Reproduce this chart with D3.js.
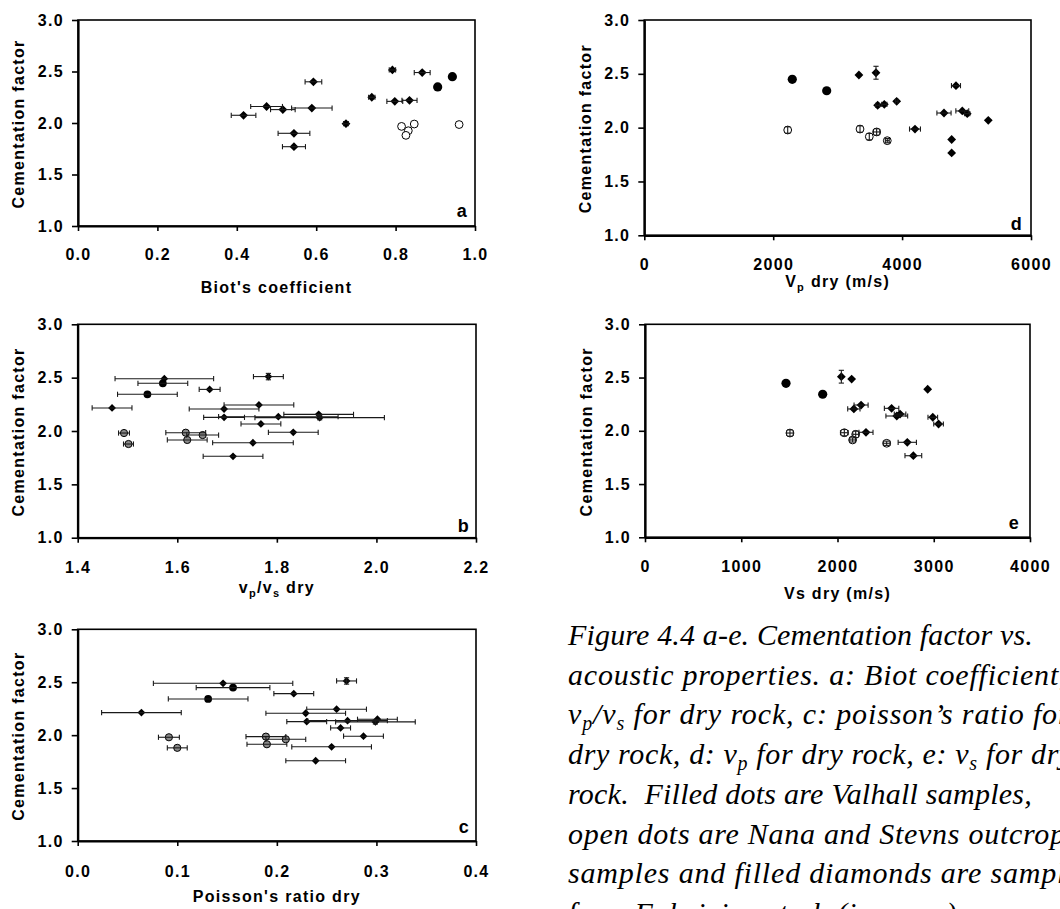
<!DOCTYPE html>
<html><head><meta charset="utf-8">
<script src="https://cdn.jsdelivr.net/npm/d3@7"></script>
<style>
html,body{margin:0;padding:0;background:#fff;overflow:hidden;}
svg{display:block;}
.tick text{font-family:"Liberation Sans",Arial,sans-serif;font-weight:bold;font-size:16px;letter-spacing:1.3px;fill:#000;}
.ttl{font-family:"Liberation Sans",Arial,sans-serif;font-weight:bold;font-size:16px;letter-spacing:1.3px;fill:#000;}
.cap{font-family:"Liberation Serif","Times New Roman",serif;font-style:italic;font-size:30px;fill:#000;white-space:pre;}
</style></head><body>
<svg id="fig" width="1060" height="909"></svg>
<script>
// ---------- tick values ----------
const yTicks = [1.0, 1.5, 2.0, 2.5, 3.0];
const biotTicks = [0, 0.2, 0.4, 0.6, 0.8, 1.0];
const vpvsTicks = [1.4, 1.6, 1.8, 2.0, 2.2];
const poissonTicks = [0, 0.1, 0.2, 0.3, 0.4];
const vpTicks = [0, 2000, 4000, 6000];
const vsTicks = [0, 1000, 2000, 3000, 4000];

// ---------- data: [x, cementation factor, xError, mError] ----------
// a: Biot's coefficient
const biotFabricius = [[0.792,2.515,0.008,0],[0.867,2.49,0.02,0],[0.593,2.40,0.021,0],[0.740,2.25,0.008,0],
  [0.798,2.21,0.02,0],[0.835,2.22,0.019,0],[0.475,2.16,0.04,0],[0.516,2.13,0.031,0],[0.589,2.145,0.051,0],
  [0.417,2.075,0.031,0],[0.675,1.993,0.006,0],[0.544,1.90,0.04,0],[0.544,1.77,0.029,0]];
const biotValhall = [[0.943,2.45,0,0],[0.906,2.35,0,0]];
const biotOutcrop = [[0.815,1.967,0,0],[0.847,1.99,0,0],[0.832,1.925,0,0],[0.826,1.88,0,0],[0.960,1.985,0,0]];
// b: vp/vs dry
const vpvsFabricius = [[1.574,2.49,0.099,0],[1.783,2.51,0.03,0.03],[1.665,2.39,0.021,0],[1.469,2.216,0.04,0],
  [1.764,2.244,0.07,0],[1.694,2.206,0.07,0],[1.884,2.156,0.07,0],[1.886,2.125,0.13,0.02],[1.694,2.128,0.041,0],
  [1.803,2.134,0.12,0],[1.768,2.066,0.04,0],[1.833,1.988,0.05,0],[1.752,1.89,0.081,0],[1.712,1.763,0.06,0]];
const vpvsValhall = [[1.571,2.447,0.05,0],[1.54,2.344,0.06,0]];
const vpvsOutcrop = [[1.493,1.981,0.011,0],[1.617,1.984,0.04,0],[1.651,1.962,0.032,0],[1.62,1.916,0.04,0],[1.502,1.878,0.01,0]];
// c: Poisson's ratio dry
const poissonFabricius = [[0.146,2.49,0.07,0],[0.27,2.512,0.01,0.03],[0.217,2.392,0.02,0],[0.064,2.213,0.04,0],
  [0.26,2.245,0.03,0],[0.229,2.207,0.04,0],[0.230,2.128,0.02,0],[0.271,2.137,0.04,0],[0.301,2.15,0.02,0],
  [0.299,2.125,0.04,0.02],[0.264,2.068,0.01,0],[0.287,1.99,0.02,0],[0.255,1.89,0.04,0],[0.239,1.758,0.03,0]];
const poissonValhall = [[0.156,2.449,0.037,0],[0.131,2.342,0.04,0]];
const poissonOutcrop = [[0.0916,1.98,0.0105,0],[0.189,1.986,0.02,0],[0.209,1.961,0.02,0],[0.19,1.914,0.02,0],[0.1,1.88,0.01,0]];
// d: Vp dry (m/s)
const vpFabricius = [[3330,2.489,0,0],[3595,2.51,0,0.06],[4836,2.39,70,0],[3621,2.208,30,0],[3724,2.217,40,0],
  [3916,2.245,20,0],[4650,2.136,110,0],[4934,2.155,100,0],[5011,2.13,40,0],[5337,2.068,0,0],
  [4200,1.987,85,0],[4769,1.89,0,0],[4769,1.765,0,0]];
const vpValhall = [[2296,2.449,0,0],[2830,2.343,0,0]];
const vpOutcrop = [[2225,1.978,0,0.03],[3347,1.987,0,0.03],[3491,1.916,0,0.03],[3605,1.96,50,0.03],[3770,1.879,30,0.02]];
// e: Vs dry (m/s)
const vsFabricius = [[2040,2.508,0,0.06],[2147,2.486,0,0],[2937,2.39,0,0],[2245,2.242,73,0],[2170,2.205,64,0],
  [2562,2.211,75,0],[2616,2.139,113,0],[2650,2.157,60,0],[2990,2.127,50,0],[3050,2.064,50,0],
  [2296,1.986,73,0],[2725,1.892,95,0],[2788,1.766,87,0]];
const vsValhall = [[1465,2.446,0,0],[1846,2.343,0,0]];
const vsOutcrop = [[1506,1.979,35,0.03],[2071,1.982,40,0.03],[2189,1.967,30,0.03],[2157,1.914,30,0.02],[2511,1.883,35,0.02]];

// ---------- caption (segments; second item flags a subscript) ----------
const captionLines = [
  [["Figure 4.4 a-e. Cementation factor vs."]],
  [["acoustic properties. a: Biot coefficient, b:"]],
  [["v"],["p",1],["/v"],["s",1],[" for dry rock, c: poisson\u2019s ratio for"]],
  [["dry rock, d: v"],["p",1],[" for dry rock, e: v"],["s",1],[" for dry"]],
  [["rock.  Filled dots are Valhall samples,"]],
  [["open dots are Nana and Stevns outcrop"]],
  [["samples and filled diamonds are samples"]],
  [["from Fabricius et al. (in press)."]]
];
// leading characters of each line and where they end in the source
const captionFit = [
  ["Figure 4.4 a-e. Cementation factor vs.", 1033],
  ["acoustic properties. a: Biot coefficient", 1059],
  ["vp/vs for dry rock, c: poisson\u2019s ratio fo", 1058],
  ["dry rock, d: vp for dry rock, e: vs for dr", 1059],
  ["rock.  Filled dots are Valhall samples,", 1032],
  ["open dots are Nana and Stevns outcro", 1050],
  ["samples and filled diamonds are samp", 1057],
  ["from Fabricius et al. (in press)", 957]
];

const svg = d3.select("#fig");

const panels = [
  {x0:78, x1:475, y0:20, y1:226, dom:[0,1], ticks:biotTicks, fmt:d3.format(".1f"), pad:17.6,
   title:[["Biot's coefficient"]], titleY:293, ytx:18, letter:"a", ldx:-7, ldy:-9, big:true,
   sets:[biotFabricius, biotValhall, biotOutcrop]},
  {x0:77.7, x1:476, y0:324.3, y1:537.7, dom:[1.4,2.2], ticks:vpvsTicks, fmt:d3.format(".1f"), pad:18.6,
   title:[["v"],["p",1],["/v"],["s",1],[" dry"]], titleY:593, ytx:18, letter:"b", ldx:-6, ldy:-6, big:false,
   sets:[vpvsFabricius, vpvsValhall, vpvsOutcrop]},
  {x0:77.7, x1:476, y0:629.3, y1:841, dom:[0,0.4], ticks:poissonTicks, fmt:d3.format(".1f"), pad:19.3,
   title:[["Poisson's ratio dry"]], titleY:901.5, ytx:18, letter:"c", ldx:-6, ldy:-8, big:false,
   sets:[poissonFabricius, poissonValhall, poissonOutcrop]},
  {x0:644.3, x1:1031, y0:20, y1:235.3, dom:[0,6000], ticks:vpTicks, fmt:d3.format("d"), pad:18.8,
   title:[["V"],["p",1],[" dry (m/s)"]], titleY:287, ytx:585.5, letter:"d", ldx:-8, ldy:-5, big:true,
   sets:[vpFabricius, vpValhall, vpOutcrop]},
  {x0:645, x1:1030, y0:324.3, y1:537.3, dom:[0,4000], ticks:vsTicks, fmt:d3.format("d"), pad:18,
   title:[["Vs dry (m/s)"]], titleY:599, ytx:586.5, letter:"e", ldx:-10, ldy:-8, big:true,
   sets:[vsFabricius, vsValhall, vsOutcrop]}
];

function addSegments(textSel, segs, subSize, shift){
  let prevSub = false;
  segs.forEach(s => {
    const t = textSel.append("tspan").text(s[0]);
    const isSub = !!s[1];
    if (isSub) t.attr("font-size", subSize).attr("dy", shift);
    else if (prevSub) t.attr("dy", -shift);
    prevSub = isSub;
  });
}

panels.forEach(p => {
  const x = d3.scaleLinear().domain(p.dom).range([p.x0, p.x1]);
  const y = d3.scaleLinear().domain([1,3]).range([p.y1, p.y0]);
  const g = svg.append("g");

  // plot box
  g.append("rect").attr("x", p.x0).attr("y", p.y0).attr("width", p.x1-p.x0).attr("height", p.y1-p.y0)
    .attr("fill","none").attr("stroke","#000").attr("stroke-width",1.6);

  // axes
  const ya = g.append("g").attr("transform",`translate(${p.x0},0)`)
    .call(d3.axisLeft(y).tickValues(yTicks).tickFormat(d3.format(".1f")).tickSize(6).tickSizeOuter(0).tickPadding(8));
  const xa = g.append("g").attr("transform",`translate(0,${p.y1})`)
    .call(d3.axisBottom(x).tickValues(p.ticks).tickFormat(p.fmt).tickSize(5).tickSizeOuter(0).tickPadding(p.pad));
  [ya, xa].forEach(a => {
    a.select(".domain").attr("stroke","#000").attr("stroke-width",2.2);
    a.selectAll(".tick line").attr("stroke","#000").attr("stroke-width",1.6);
  });

  // y title
  svg.append("text").attr("class","ttl")
    .attr("transform",`translate(${p.ytx},${(p.y0+p.y1)/2 + 1}) rotate(-90)`)
    .attr("text-anchor","middle").attr("dy","0.35em").text("Cementation factor");

  // x title
  const xt = svg.append("text").attr("class","ttl").attr("x",(p.x0+p.x1)/2).attr("y",p.titleY)
    .attr("text-anchor","middle");
  addSegments(xt, p.title, "11px", 4);

  // panel letter
  svg.append("text").attr("class","ttl").style("font-size","18px")
    .attr("x", p.x1 + p.ldx).attr("y", p.y1 + p.ldy).attr("text-anchor","end").text(p.letter);

  const mk = g.append("g");
  const eb = g.append("g").attr("stroke","#1a1a1a").attr("stroke-width",1.1).attr("fill","none");
  const rd = p.big ? 4.4 : 3.9;
  const rc = p.big ? 4.6 : 3.9;
  const ro = p.big ? 3.9 : 3.6;

  // Fabricius et al.: filled diamonds
  mk.selectAll("path.dia").data(p.sets[0]).join("path").attr("class","dia")
    .attr("d", d => `M${x(d[0])},${y(d[1])-rd}L${x(d[0])+rd},${y(d[1])}L${x(d[0])},${y(d[1])+rd}L${x(d[0])-rd},${y(d[1])}Z`)
    .attr("fill","#000");
  // Valhall: filled circles
  mk.selectAll("circle.val").data(p.sets[1]).join("circle").attr("class","val")
    .attr("cx", d => x(d[0])).attr("cy", d => y(d[1])).attr("r", rc).attr("fill","#000");
  // Nana & Stevns outcrop: open circles
  mk.selectAll("circle.out").data(p.sets[2]).join("circle").attr("class","out")
    .attr("cx", d => x(d[0])).attr("cy", d => y(d[1])).attr("r", ro)
    .attr("fill", p.big ? "#fff" : "#8a8a8a").attr("stroke","#000").attr("stroke-width",1);

  // error bars
  const all = p.sets[0].concat(p.sets[1], p.sets[2]);
  const cap = 2.6;
  all.forEach(d => {
    const cx = x(d[0]), cy = y(d[1]);
    if (d[2] > 0) {
      const xl = x(d[0]-d[2]), xr = x(d[0]+d[2]);
      eb.append("line").attr("x1",xl).attr("x2",xr).attr("y1",cy).attr("y2",cy);
      eb.append("line").attr("x1",xl).attr("x2",xl).attr("y1",cy-cap).attr("y2",cy+cap);
      eb.append("line").attr("x1",xr).attr("x2",xr).attr("y1",cy-cap).attr("y2",cy+cap);
    }
    if (d[3] > 0) {
      const yt = y(d[1]+d[3]), yb = y(d[1]-d[3]);
      eb.append("line").attr("x1",cx).attr("x2",cx).attr("y1",yt).attr("y2",yb);
      eb.append("line").attr("x1",cx-cap).attr("x2",cx+cap).attr("y1",yt).attr("y2",yt);
      eb.append("line").attr("x1",cx-cap).attr("x2",cx+cap).attr("y1",yb).attr("y2",yb);
    }
  });
});

// caption: letter spacing fitted per line to the source's line lengths
const capX = 568;
captionLines.forEach((segs, i) => {
  const t = svg.append("text").attr("class","cap").attr("x",capX).attr("y", 645 + i*39.7);
  addSegments(t, segs, "20px", 6);
  const [prefix, endX] = captionFit[i];
  const n = prefix.length;
  const len = t.node().getSubStringLength(0, n);
  const ls = Math.max(0, (endX - capX - len) / n);
  t.style("letter-spacing", ls.toFixed(3) + "px");
});
</script>
</body></html>
